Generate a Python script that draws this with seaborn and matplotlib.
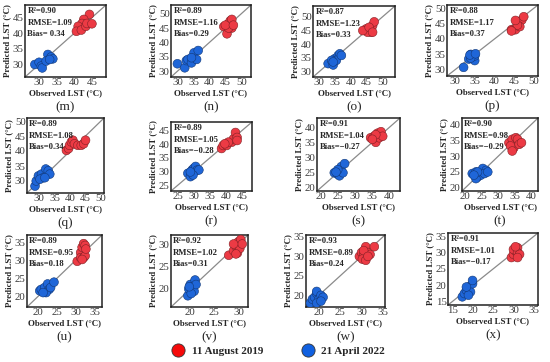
import numpy as np
import pandas as pd
import matplotlib
matplotlib.use("Agg")
import matplotlib.pyplot as plt
from matplotlib.lines import Line2D
import seaborn as sns

# panel letters and stats printed in each panel
panels = ["m", "n", "o", "p", "q", "r", "s", "t", "u", "v", "w", "x"]
r2 = ["0.90", "0.89", "0.87", "0.88", "0.89", "0.89", "0.91", "0.90", "0.89", "0.92", "0.93", "0.91"]
rmse = ["1.09", "1.16", "1.23", "1.17", "1.08", "1.05", "1.04", "0.98", "0.95", "1.02", "0.89", "1.01"]
bias = [" 0.34", "0.29", "0.33", "0.37", "0.34", "\u22120.28", "\u22120.27", "\u22120.29", "0.18", "0.31", "0.24", "\u22120.17"]

# axis range (same for x and y) and tick values per panel
lims = [(26, 49), (28, 53), (28, 54), (28, 51), (26, 51), (23, 48),
        (19, 43), (19, 42), (17, 37), (16, 32), (17, 35.5), (14, 36)]
ticks = [[30, 35, 40, 45], [30, 35, 40, 45, 50], [30, 35, 40, 45, 50], [30, 35, 40, 45, 50],
         [30, 35, 40, 45, 50], [25, 30, 35, 40, 45], [20, 25, 30, 35, 40], [20, 25, 30, 35, 40],
         [20, 25, 30, 35], [20, 25, 30], [20, 25, 30, 35], [15, 20, 25, 30, 35]]

# 11 August 2019 (red): observed / predicted LST per panel
aug_obs = [
    [44.3, 42.7, 42.2, 41.1, 40.6, 42.0, 43.3, 43.6, 45.0],
    [44.5, 45.5, 46.0, 46.5, 47.0, 47.0, 46.0, 45.0, 47.5],
    [44.8, 45.8, 46.9, 47.4, 46.4, 45.3, 43.8, 45.8, 46.9],
    [44.3, 45.3, 45.8, 46.9, 47.4, 46.4, 45.8, 44.3, 45.3],
    [38.8, 39.5, 39.8, 40.4, 40.9, 41.4, 42.5, 43.6, 44.4, 45.0],
    [38.6, 39.1, 40.2, 41.8, 42.3, 42.9, 43.4, 40.7, 39.6, 43.4],
    [34.5, 35.5, 36.0, 36.5, 37.0, 37.5, 38.0, 36.0, 35.0],
    [33.2, 34.2, 35.3, 35.8, 34.7, 33.7, 36.3, 37.0, 34.2],
    [30.4, 31.3, 31.7, 32.1, 32.5, 31.3, 32.1, 32.5, 31.7, 32.7],
    [28.0, 29.0, 29.5, 30.0, 30.5, 29.8, 30.3, 30.8, 29.0, 29.5],
    [29.5, 30.0, 30.5, 31.0, 31.5, 30.2, 31.0, 32.0, 33.0, 30.5, 31.5],
    [29.5, 30.0, 30.5, 31.0, 30.0, 31.0, 31.5, 31.0, 30.5],
]
aug_pred = [
    [46.0, 44.4, 43.1, 42.2, 40.6, 41.0, 42.2, 43.1, 43.0],
    [45.5, 43.0, 46.5, 47.5, 48.0, 45.0, 45.0, 46.0, 46.0],
    [45.6, 45.0, 46.8, 48.2, 44.4, 44.4, 45.0, 46.2, 44.4],
    [43.0, 43.0, 45.6, 46.1, 47.2, 44.0, 44.5, 42.6, 46.0],
    [40.2, 40.8, 41.9, 43.0, 43.6, 42.4, 41.9, 41.9, 42.4, 43.6],
    [38.4, 39.5, 39.5, 40.7, 41.9, 44.2, 42.4, 40.7, 40.1, 41.3],
    [36.5, 37.0, 35.0, 38.0, 36.5, 38.5, 37.0, 37.5, 36.0],
    [34.2, 35.3, 35.8, 35.3, 32.6, 33.2, 33.7, 34.2, 31.6],
    [29.7, 32.1, 33.6, 34.6, 34.1, 30.7, 30.7, 31.2, 30.2, 33.1],
    [27.5, 28.5, 29.5, 30.5, 31.0, 28.0, 29.0, 30.0, 30.0, 27.8],
    [30.0, 31.0, 30.5, 32.5, 31.0, 29.3, 29.0, 30.5, 32.5, 31.5, 30.0],
    [28.5, 29.5, 30.5, 31.5, 31.0, 30.0, 29.5, 28.5, 31.8],
]

# 21 April 2022 (blue): observed / predicted LST per panel
apr_obs = [
    [28.8, 30.0, 30.6, 30.9, 32.5, 32.0, 33.4, 33.9, 33.0],
    [30.0, 32.3, 32.8, 33.3, 34.4, 35.2, 36.5, 36.0, 34.4],
    [32.8, 34.4, 34.9, 36.0, 36.5, 35.4, 37.0, 33.9, 34.4],
    [32.2, 33.5, 34.0, 34.5, 35.0, 35.0, 34.0, 33.8, 35.2],
    [28.6, 29.0, 29.7, 30.7, 31.3, 32.1, 32.9, 33.4, 30.2, 31.8],
    [28.2, 29.0, 29.5, 30.0, 30.6, 31.1, 31.6, 29.8, 29.0],
    [24.0, 25.0, 25.5, 26.0, 26.0, 27.0, 26.5, 25.0, 24.5],
    [22.1, 23.2, 23.7, 24.7, 25.3, 26.3, 25.8, 23.2, 26.8, 23.7, 22.6],
    [20.4, 20.8, 21.7, 22.5, 22.9, 22.1, 23.3, 24.2, 21.3],
    [19.5, 19.7, 20.0, 20.5, 21.0, 20.8, 21.2, 20.2, 19.8],
    [18.0, 18.5, 19.0, 19.5, 19.5, 20.0, 20.5, 21.0, 19.5, 20.5],
    [17.5, 18.0, 18.5, 19.0, 19.5, 20.0, 20.0, 19.0, 18.5],
]
apr_pred = [
    [30.0, 30.7, 29.5, 28.9, 33.2, 31.1, 32.4, 31.8, 31.6],
    [32.6, 31.2, 33.7, 34.1, 32.9, 36.4, 37.2, 34.1, 34.7],
    [32.9, 32.4, 34.7, 35.9, 36.5, 34.1, 35.9, 34.1, 33.5],
    [30.8, 33.5, 35.0, 34.0, 33.0, 34.5, 33.8, 34.8, 35.2],
    [28.3, 30.0, 31.7, 32.3, 31.1, 34.0, 33.4, 32.3, 30.6, 31.1],
    [29.4, 28.2, 30.6, 31.2, 31.9, 30.6, 30.6, 28.8, 29.9],
    [25.0, 24.5, 24.0, 25.5, 27.0, 28.0, 25.0, 26.0, 25.2],
    [24.5, 25.0, 23.4, 24.0, 26.1, 25.5, 24.5, 22.9, 25.0, 25.0, 24.0],
    [21.5, 21.9, 22.4, 23.4, 21.9, 21.0, 22.4, 23.9, 21.0],
    [18.5, 20.0, 21.0, 20.5, 22.0, 19.5, 21.0, 19.0, 20.5],
    [18.0, 19.0, 19.5, 20.5, 21.0, 19.0, 20.0, 19.5, 18.0, 18.5],
    [16.5, 17.5, 18.5, 19.5, 18.0, 20.5, 21.5, 17.0, 19.5],
]

# axes boxes in pixels (left, top, right, bottom) on the 550x362 canvas
boxes = [(25, 5, 106, 77), (171, 5, 251, 77), (313, 6, 395, 77), (447, 5, 538, 76),
         (27, 118, 104, 193), (171, 122, 252, 191), (317, 118, 400, 191), (462, 118, 538, 191),
         (27, 235, 102, 307), (171, 235, 248, 307), (306, 235, 385, 307), (448, 233, 538, 305)]

W, H = 550, 362
RED, BLUE = "#ec3a44", "#1f66d8"
SERIF = ["Liberation Serif", "DejaVu Serif"]

sns.set_theme(style="ticks")
plt.rcParams["font.family"] = SERIF

fig = plt.figure(figsize=(W / 100, H / 100), dpi=100)

for i, p in enumerate(panels):
    l, t, r, b = boxes[i]
    ax = fig.add_axes([l / W, 1 - b / H, (r - l) / W, (b - t) / H])
    df = pd.concat([
        pd.DataFrame({"obs": aug_obs[i], "pred": aug_pred[i], "date": "11 August 2019"}),
        pd.DataFrame({"obs": apr_obs[i], "pred": apr_pred[i], "date": "21 April 2022"}),
    ])
    lo, hi = lims[i]
    ax.plot([lo, hi], [lo, hi], color="#8a8a8a", lw=0.9, zorder=1)
    sns.scatterplot(data=df, x="obs", y="pred", hue="date",
                    palette={"11 August 2019": RED, "21 April 2022": BLUE},
                    s=40, linewidth=0.4, legend=False, ax=ax, zorder=3)
    # darker outline in the same hue as the fill
    for coll in ax.collections:
        fc = coll.get_facecolors()
        if len(fc):
            coll.set_edgecolors([(c[0] * 0.55, c[1] * 0.55, c[2] * 0.55, 1) for c in fc])
    ax.set_xlim(lo, hi)
    ax.set_ylim(lo, hi)
    ax.set_xticks(ticks[i])
    ax.set_yticks(ticks[i])
    ax.tick_params(labelsize=7.8, length=0, pad=1, colors="#3a3a3a")
    for s in ax.spines.values():
        s.set_linewidth(1.1)
        s.set_color("#222222")
    ax.set_xlabel("Observed LST (\u00b0C)", fontsize=6.4, fontweight="bold", labelpad=1)
    ax.set_ylabel("Predicted LST (\u00b0C)", fontsize=6.4, fontweight="bold", labelpad=1)
    txt = f"R\u00b2={r2[i]}\nRMSE={rmse[i]}\nBias={bias[i]}"
    ax.text(0.03, 0.97, txt, transform=ax.transAxes, ha="left", va="top",
            fontsize=6.2, fontweight="bold", linespacing=1.6)
    # panel letter under the x label
    cx = (l + r) / 2 / W
    fig.text(cx, 1 - (b + 30) / H, f"({p})", ha="center", va="center", fontsize=9.5)

# legend at the bottom
handles = [Line2D([], [], marker="o", ls="", markersize=9.5, markerfacecolor="#f50a0a",
                  markeredgecolor="#333333", markeredgewidth=0.6, label="11 August 2019"),
           Line2D([], [], marker="o", ls="", markersize=9.5, markerfacecolor="#1060e0",
                  markeredgecolor="#333333", markeredgewidth=0.6, label="21 April 2022")]
fig.legend(handles=handles, loc="center", bbox_to_anchor=(276 / W, 1 - 351 / H), ncol=2,
           frameon=False, handletextpad=0.2, columnspacing=3.0,
           prop={"family": SERIF, "weight": "bold", "size": 8})

fig.savefig("out.png", dpi=100)
